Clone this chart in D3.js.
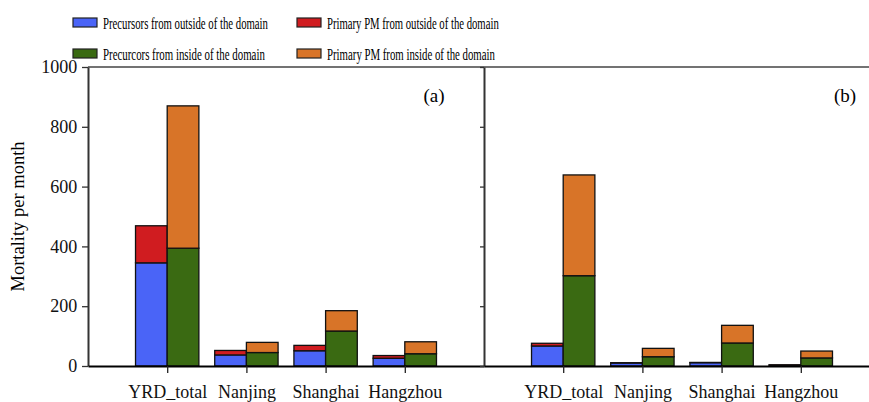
<!DOCTYPE html>
<html>
<head>
<meta charset="utf-8">
<script src="https://cdn.jsdelivr.net/npm/d3@7"></script>
<style>
  body { margin: 0; background: #fff; }
  svg text { font-family: 'Liberation Serif', 'DejaVu Serif', serif !important; }
</style>
</head>
<body>
<div id="chart"></div>
<script>
// Data
const cities = ["YRD_total", "Nanjing", "Shanghai", "Hangzhou"];
const seriesNames = [
  "Precursors from outside of the domain",
  "Primary PM from outside of the domain",
  "Precurcors from inside of the domain",
  "Primary PM from inside of the domain"
];
const yTicks = [0, 200, 400, 600, 800, 1000];

// panel (a)
const outPrecA = [345, 37, 51, 26];
const outPrimA = [124, 15, 18, 9];
const inPrecA = [394, 45, 117, 41];
const inPrimA = [476, 34, 68, 40];
// panel (b)
const outPrecB = [67, 10, 11, 3];
const outPrimB = [9, 1, 1, 1];
const inPrecB = [302, 31, 77, 27];
const inPrimB = [337, 28, 59, 23];

const colors = ["#4a64f7", "#d01c20", "#3a6a12", "#d87428"];

const W = 869, H = 402;
const yTop = 67, yBase = 366;

const svg = d3.select("#chart").append("svg")
  .attr("width", W).attr("height", H);

const y = d3.scaleLinear().domain([0, 1000]).range([yBase, yTop]);

//Legend
const legendItems = [
  { i: 0, x: 73, y: 18, w: 165 },
  { i: 1, x: 297, y: 18, w: 172 },
  { i: 2, x: 73, y: 49, w: 162 },
  { i: 3, x: 297, y: 49, w: 168 }
];
const legend = svg.append("g").attr("class", "legend");
legend.selectAll("rect")
  .data(legendItems).enter().append("rect")
  .attr("x", d => d.x).attr("y", d => d.y)
  .attr("width", 24).attr("height", 9)
  .attr("fill", d => colors[d.i])
  .attr("stroke", "#222").attr("stroke-width", 1.2);
// the legend text is narrow in the figure: squeeze it horizontally
legend.selectAll("text")
  .data(legendItems).enter().append("text")
  .attr("font-size", 17)
  .text(d => seriesNames[d.i])
  .each(function(d) {
    const natural = this.getComputedTextLength();
    const sx = d.w / natural;
    d3.select(this).attr("transform",
      `translate(${d.x + 30},${d.y + 10.5}) scale(${sx},1)`);
  });

function drawPanel(x0, x1, data, label, labelX, showYLabels) {
  const x = d3.scaleLinear().domain([0, 5]).range([x0, x1]);
  const bw = x(0.4) - x(0);
  const g = svg.append("g");

  // top frame line
  g.append("line")
    .attr("x1", x0).attr("x2", Math.min(x1, W))
    .attr("y1", yTop).attr("y2", yTop)
    .attr("stroke", "#444").attr("stroke-width", 1.5);

  // bars
  cities.forEach((c, k) => {
    const cx = x(k + 1);
    const stacks = [
      { left: cx - bw, parts: [[data[0][k], 0], [data[1][k], 1]] },
      { left: cx, parts: [[data[2][k], 2], [data[3][k], 3]] }
    ];
    stacks.forEach(s => {
      let base = 0;
      s.parts.forEach(([v, ci]) => {
        g.append("rect")
          .attr("x", s.left).attr("width", bw)
          .attr("y", y(base + v))
          .attr("height", y(base) - y(base + v))
          .attr("fill", colors[ci])
          .attr("stroke", "#111").attr("stroke-width", 1.3);
        base += v;
      });
    });
  });

  // y axis
  const yAxis = d3.axisLeft(y).tickValues(yTicks)
    .tickSize(showYLabels ? 6 : 4).tickSizeOuter(0)
    .tickFormat(showYLabels ? d3.format("d") : "");
  const ya = g.append("g").attr("transform", `translate(${x0},0)`).call(yAxis);
  ya.attr("font-family", null);
  ya.select(".domain").attr("stroke", "#333").attr("stroke-width", 2);
  ya.selectAll(".tick line").attr("stroke", "#333").attr("stroke-width", 1.3);
  ya.selectAll(".tick text").attr("font-size", 18).attr("fill", "#111").attr("dx", "-0.1em");

  // x axis
  const xAxis = d3.axisBottom(x).tickValues([1, 2, 3, 4])
    .tickSize(7).tickSizeOuter(0)
    .tickFormat(d => cities[d - 1]);
  const xa = g.append("g").attr("transform", `translate(0,${yBase})`).call(xAxis);
  xa.attr("font-family", null);
  xa.select(".domain").attr("stroke", "#000").attr("stroke-width", 2.2);
  xa.selectAll(".tick line").attr("stroke", "#222").attr("stroke-width", 1.3);
  xa.selectAll(".tick text").attr("font-size", 18).attr("fill", "#111")
    .attr("y", 32).attr("dy", 0);

  // panel label
  g.append("text")
    .attr("x", labelX).attr("y", 102)
    .attr("font-size", 19).attr("text-anchor", "middle")
    .text(label);
}

drawPanel(88, 484, [outPrecA, outPrimA, inPrecA, inPrimA], "(a)", 434, true);
drawPanel(484, 880, [outPrecB, outPrimB, inPrecB, inPrimB], "(b)", 845, false);

// y axis title
svg.append("text")
  .attr("transform", `translate(24,${(yTop + yBase) / 2}) rotate(-90)`)
  .attr("text-anchor", "middle")
  .attr("font-size", 18.5)
  .text("Mortality per month");
</script>
</body>
</html>
